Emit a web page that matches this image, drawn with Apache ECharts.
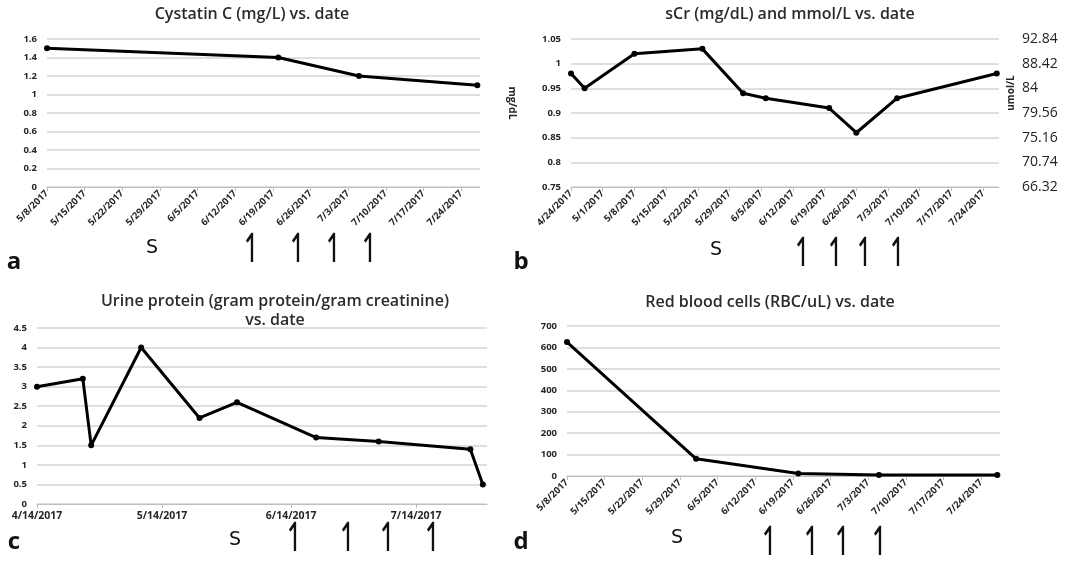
<!DOCTYPE html>
<html>
<head>
<meta charset="utf-8">
<script src="https://cdn.jsdelivr.net/npm/echarts@6/dist/echarts.min.js"></script>
<style>
html,body{margin:0;padding:0;background:#fff;}
#chart{width:1079px;height:561px;}
</style>
</head>
<body>
<div id="chart"></div>
<script>
// ---- Data ----
const cysDates = ['2017-05-08','2017-06-20','2017-07-05','2017-07-27'];
const cysValues = [1.5, 1.4, 1.2, 1.1];
const cysTicks = ['5/8/2017','5/15/2017','5/22/2017','5/29/2017','6/5/2017','6/12/2017','6/19/2017','6/26/2017','7/3/2017','7/10/2017','7/17/2017','7/24/2017'];

const scrDates = ['2017-04-24','2017-04-27','2017-05-08','2017-05-23','2017-06-01','2017-06-06','2017-06-20','2017-06-26','2017-07-05','2017-07-27'];
const scrValues = [0.98, 0.95, 1.02, 1.03, 0.94, 0.93, 0.91, 0.86, 0.93, 0.98];
const scrTicks = ['4/24/2017','5/1/2017','5/8/2017','5/15/2017','5/22/2017','5/29/2017','6/5/2017','6/12/2017','6/19/2017','6/26/2017','7/3/2017','7/10/2017','7/17/2017','7/24/2017'];
const umolLabels = ['66.32','70.74','75.16','79.56','84','88.42','92.84'];

const upDates = ['2017-04-14','2017-04-25','2017-04-27','2017-05-09','2017-05-23','2017-06-01','2017-06-20','2017-07-05','2017-07-27','2017-07-30'];
const upValues = [3.0, 3.2, 1.5, 4.0, 2.2, 2.6, 1.7, 1.6, 1.4, 0.5];
const upTicks = ['4/14/2017','5/14/2017','6/14/2017','7/14/2017'];

const rbcDates = ['2017-05-08','2017-06-01','2017-06-20','2017-07-05','2017-07-27'];
const rbcValues = [625, 80, 12, 5, 5];
const rbcTicks = ['5/8/2017','5/15/2017','5/22/2017','5/29/2017','6/5/2017','6/12/2017','6/19/2017','6/26/2017','7/3/2017','7/10/2017','7/17/2017','7/24/2017'];

// ---- helpers ----
const DAY = 86400000;
function isoToUTC(s){ const p = s.split('-').map(Number); return Date.UTC(p[0], p[1]-1, p[2]); }
function mdyToUTC(s){ const p = s.split('/').map(Number); return Date.UTC(p[2], p[0]-1, p[1]); }
function toPoints(dates, values, originLabel){
  const o = mdyToUTC(originLabel);
  return dates.map((d,i)=>[(isoToUTC(d)-o)/DAY, values[i]]);
}
function tickOffsets(ticks){
  const o = mdyToUTC(ticks[0]);
  return ticks.map(t => (mdyToUTC(t)-o)/DAY);
}
function labelFor(ticks){
  const offs = tickOffsets(ticks);
  return function(v){ const i = offs.findIndex(x => Math.abs(x - v) < 0.01); return i >= 0 ? ticks[i] : ''; };
}

const FONT = 'Open Sans';
const labelColor = '#262626';

function xAxisFor(gridIndex, ticks, max, rotate){
  const offs = tickOffsets(ticks);
  return {
    type: 'value', gridIndex: gridIndex, min: 0, max: max,
    axisLine: {show: true, lineStyle: {color: '#bfbfbf', width: 1}},
    axisTick: {show: true, customValues: offs, length: 4, lineStyle: {color: '#bfbfbf'}},
    axisLabel: {customValues: offs, formatter: labelFor(ticks), rotate: rotate, margin: rotate ? 5 : 7,
      fontFamily: FONT, fontWeight: 'bold', fontSize: rotate ? 9.5 : 10.5, color: labelColor},
    splitLine: {show: false}
  };
}
function yAxisFor(gridIndex, min, max, interval){
  return {
    type: 'value', gridIndex: gridIndex, min: min, max: max, interval: interval,
    axisLine: {show: false}, axisTick: {show: false},
    axisLabel: {fontFamily: FONT, fontWeight: 'bold', fontSize: 9.5, color: labelColor, margin: 10},
    splitLine: {show: true, lineStyle: {color: '#d4d4d4', width: 1.5}}
  };
}
function lineSeries(xi, yi, data){
  return {
    type: 'line', xAxisIndex: xi, yAxisIndex: yi, data: data,
    symbol: 'circle', symbolSize: 6, showSymbol: true,
    lineStyle: {color: '#000', width: 3},
    itemStyle: {color: '#000'},
    animation: false
  };
}

const titleStyle = {fontFamily: FONT, fontWeight: 600, fontSize: 16, color: '#2b2b2b', lineHeight: 19};

function txt(x, y, text, size, weight, family, sx){
  return {type: 'text', x: x, y: y, scaleX: sx || 1, style: {text: text, fontSize: size, fontWeight: weight || 'normal',
    fontFamily: family || FONT, fill: '#111', align: 'center', verticalAlign: 'middle'}};
}
const graphics = [];
// panel letters
graphics.push(txt(14, 262, 'a', 24, 'bold'));
graphics.push(txt(521, 262, 'b', 24, 'bold'));
graphics.push(txt(14, 542, 'c', 24, 'bold'));
graphics.push(txt(521, 542, 'd', 24, 'bold'));
// S markers and arrows
const arrow = '\u21BF';
function annot(sx, sy, ax, ay){
  graphics.push(txt(sx, sy, 'S', 19, 'normal', 'DejaVu Sans'));
  ax.forEach(x => graphics.push(txt(x, ay, arrow, 40, 'normal', 'DejaVu Sans', 0.7)));
}
annot(152, 248, [252, 298, 334, 370], 252);
annot(716, 250, [803, 836, 865, 898], 256);
annot(235, 540, [295, 348, 388, 433], 541);
annot(677, 538, [770, 812, 843, 880], 545);
// axis names on panel b
graphics.push({type: 'text', x: 512, y: 103, rotation: -Math.PI/2,
  style: {text: 'mg/dL', fontSize: 10.5, fontWeight: 'bold', fontFamily: FONT, fill: '#262626', align: 'center', verticalAlign: 'middle'}});
graphics.push({type: 'text', x: 1011, y: 93, rotation: Math.PI/2,
  style: {text: 'umol/L', fontSize: 10, fontWeight: 'bold', fontFamily: FONT, fill: '#262626', align: 'center', verticalAlign: 'middle'}});

const option = {
  backgroundColor: '#fff',
  animation: false,
  title: [
    {text: 'Cystatin C (mg/L) vs. date', left: 252, top: 5, textAlign: 'center', padding: 0, textStyle: titleStyle},
    {text: 'sCr (mg/dL) and mmol/L vs. date', left: 790, top: 5, textAlign: 'center', padding: 0, textStyle: titleStyle},
    {text: 'Urine protein (gram protein/gram creatinine)\nvs. date', left: 275, top: 292, textAlign: 'center', padding: 0, textStyle: titleStyle},
    {text: 'Red blood cells (RBC/uL) vs. date', left: 770, top: 293, textAlign: 'center', padding: 0, textStyle: titleStyle}
  ],
  grid: [
    {left: 47, top: 39, width: 433, height: 148},
    {left: 571, top: 39, width: 428, height: 148},
    {left: 37, top: 328, width: 450, height: 176},
    {left: 567, top: 326, width: 433, height: 150}
  ],
  xAxis: [
    xAxisFor(0, cysTicks, 80.5, 45),
    xAxisFor(1, scrTicks, 94.5, 45),
    xAxisFor(2, upTicks, 108, 0),
    xAxisFor(3, rbcTicks, 80.5, 45)
  ],
  yAxis: [
    yAxisFor(0, 0, 1.6, 0.2),
    yAxisFor(1, 0.75, 1.05, 0.05),
    Object.assign(yAxisFor(1, 0.75, 1.05, 0.05), {
      position: 'right', splitLine: {show: false},
      axisLabel: {fontFamily: FONT, fontWeight: 500, fontSize: 14, color: '#222', margin: 23,
        formatter: function(v){ return umolLabels[Math.round((v - 0.75) / 0.05)]; }}
    }),
    yAxisFor(2, 0, 4.5, 0.5),
    yAxisFor(3, 0, 700, 100)
  ],
  series: [
    lineSeries(0, 0, toPoints(cysDates, cysValues, cysTicks[0])),
    lineSeries(1, 1, toPoints(scrDates, scrValues, scrTicks[0])),
    lineSeries(2, 3, toPoints(upDates, upValues, upTicks[0])),
    lineSeries(3, 4, toPoints(rbcDates, rbcValues, rbcTicks[0]))
  ],
  graphic: graphics
};

const chart = echarts.init(document.getElementById('chart'), null, {renderer: 'canvas'});
chart.setOption(option);
</script>
</body>
</html>
